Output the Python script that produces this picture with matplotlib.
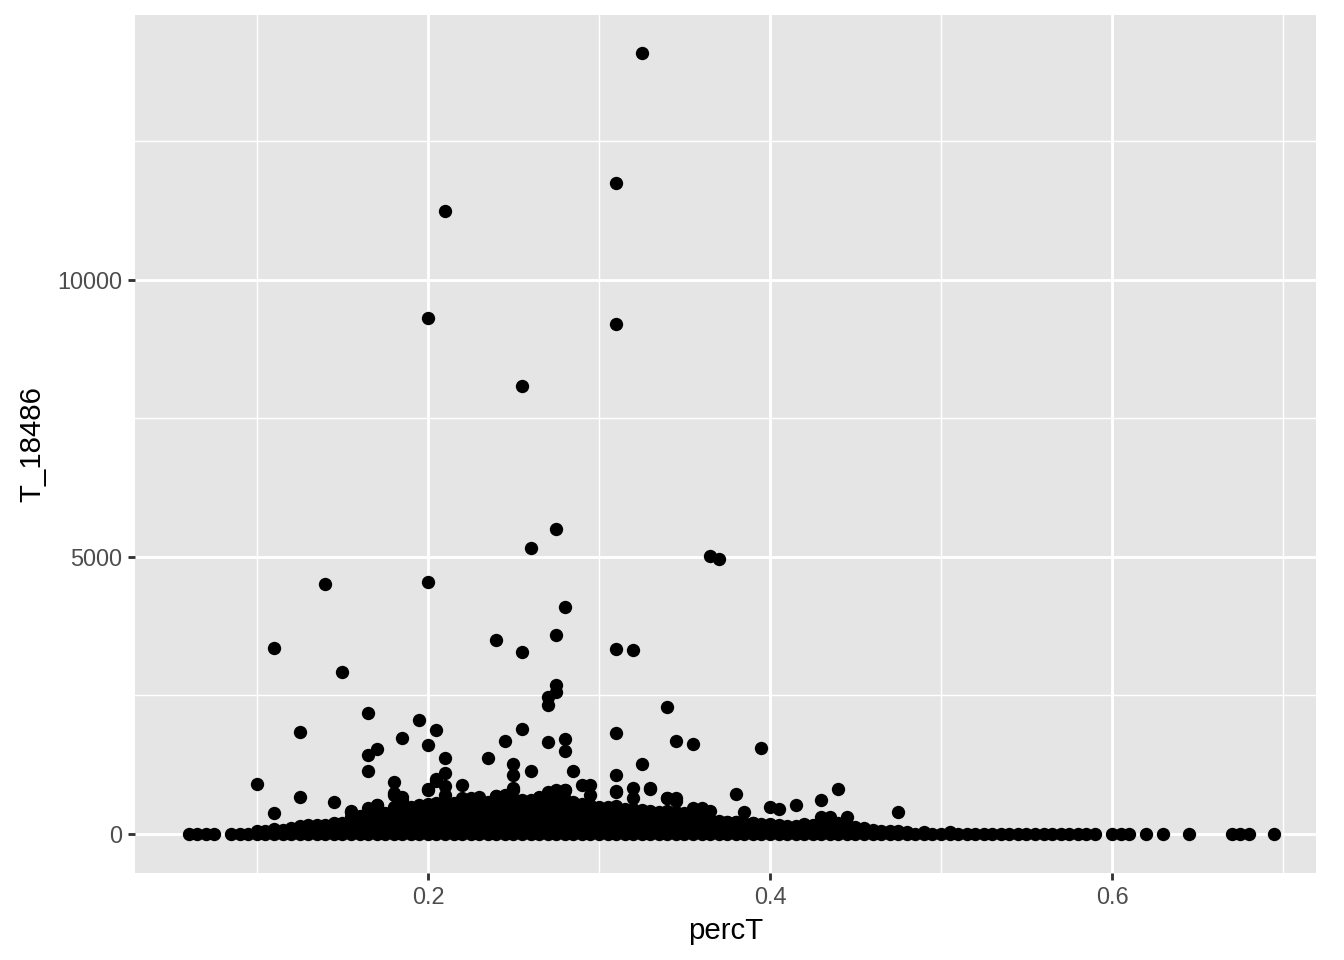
import numpy as np
import matplotlib
matplotlib.use("Agg")
import matplotlib.pyplot as plt
from matplotlib.ticker import MultipleLocator

plt.rcParams['font.family'] = ['Liberation Sans', 'DejaVu Sans']

# isolated high points (percT, T_18486)
outlier_x = [0.325, 0.310, 0.210, 0.200, 0.310, 0.255, 0.275, 0.260, 0.365, 0.370,
             0.140, 0.200, 0.280, 0.275, 0.240, 0.110, 0.310, 0.320, 0.255, 0.150,
             0.275, 0.275, 0.270, 0.270, 0.340, 0.165, 0.195, 0.205, 0.255, 0.125,
             0.310, 0.185, 0.280, 0.245, 0.345, 0.270, 0.355, 0.200, 0.170, 0.395,
             0.280, 0.165, 0.210, 0.235, 0.250, 0.325, 0.260, 0.165, 0.285, 0.310,
             0.210, 0.250, 0.180, 0.100, 0.295, 0.220, 0.330, 0.440, 0.380, 0.125,
             0.430, 0.145, 0.110, 0.475, 0.385, 0.400, 0.405, 0.415, 0.205, 0.200,
             0.210, 0.225, 0.230, 0.240, 0.250, 0.180, 0.185, 0.195, 0.155, 0.165,
             0.170, 0.265, 0.275, 0.280, 0.290, 0.295, 0.310, 0.320, 0.330, 0.340,
             0.345, 0.355, 0.360, 0.375, 0.380, 0.390, 0.420, 0.430, 0.435, 0.445]
outlier_y = [14100, 11750, 11250, 9310, 9200, 8090, 5500, 5160, 5020, 4960,
             4510, 4550, 4100, 3590, 3500, 3360, 3340, 3320, 3290, 2920,
             2690, 2570, 2470, 2330, 2290, 2190, 2060, 1880, 1890, 1840,
             1830, 1730, 1720, 1680, 1680, 1660, 1630, 1610, 1540, 1550,
             1500, 1430, 1370, 1370, 1260, 1270, 1140, 1140, 1140, 1070,
             1100, 1060, 940, 900, 880, 880, 810, 810, 720, 670,
             610, 580, 380, 400, 400, 490, 450, 520, 990, 810,
             870, 650, 670, 680, 830, 740, 670, 500, 410, 470,
             520, 670, 790, 790, 880, 700, 780, 830, 830, 650,
             650, 470, 470, 220, 220, 200, 180, 250, 310, 310]

# small bumps just above the dense band
bump_x = [0.155, 0.170, 0.180, 0.185, 0.200, 0.205, 0.210, 0.220, 0.240, 0.245,
          0.250, 0.270, 0.275, 0.280, 0.310, 0.320, 0.340, 0.345, 0.365, 0.430]
bump_y = [400, 520, 700, 620, 800, 950, 700, 650, 680, 700,
          800, 750, 780, 800, 750, 650, 650, 600, 420, 300]

# dense band of low values
band_x = [0.100, 0.105, 0.110, 0.115, 0.120,
          0.125, 0.125, 0.130, 0.130, 0.135, 0.135, 0.140, 0.140,
          0.145, 0.145, 0.150, 0.150,
          0.155, 0.155, 0.155, 0.160, 0.160, 0.160, 0.165, 0.165, 0.165,
          0.170, 0.170, 0.170, 0.175, 0.175, 0.175,
          0.180, 0.180, 0.180, 0.180, 0.185, 0.185, 0.185, 0.185,
          0.190, 0.190, 0.190, 0.190, 0.195, 0.195, 0.195, 0.195,
          0.200, 0.200, 0.200, 0.200, 0.205, 0.205, 0.205, 0.205,
          0.210, 0.210, 0.210, 0.210, 0.215, 0.215, 0.215, 0.215,
          0.220, 0.220, 0.220, 0.220, 0.225, 0.225, 0.225, 0.225,
          0.230, 0.230, 0.230, 0.230, 0.235, 0.235, 0.235, 0.235,
          0.240, 0.240, 0.240, 0.240, 0.240, 0.245, 0.245, 0.245, 0.245, 0.245,
          0.250, 0.250, 0.250, 0.250, 0.250, 0.255, 0.255, 0.255, 0.255, 0.255,
          0.260, 0.260, 0.260, 0.260, 0.260, 0.265, 0.265, 0.265, 0.265, 0.265,
          0.270, 0.270, 0.270, 0.270, 0.270, 0.275, 0.275, 0.275, 0.275, 0.275,
          0.280, 0.280, 0.280, 0.280, 0.280,
          0.285, 0.285, 0.285, 0.285, 0.290, 0.290, 0.290, 0.290,
          0.295, 0.295, 0.295, 0.295, 0.300, 0.300, 0.300, 0.300,
          0.305, 0.305, 0.305, 0.305, 0.310, 0.310, 0.310, 0.310,
          0.315, 0.315, 0.315, 0.315, 0.320, 0.320, 0.320, 0.320,
          0.325, 0.325, 0.325, 0.325,
          0.330, 0.330, 0.330, 0.335, 0.335, 0.335, 0.340, 0.340, 0.340,
          0.345, 0.345, 0.345, 0.350, 0.350, 0.350, 0.355, 0.355, 0.355,
          0.360, 0.360, 0.360,
          0.365, 0.365, 0.370, 0.370, 0.375, 0.375, 0.380, 0.380,
          0.385, 0.385, 0.390, 0.390, 0.395, 0.395, 0.400, 0.400,
          0.405, 0.405, 0.410, 0.410, 0.415, 0.415, 0.420, 0.420,
          0.425, 0.425, 0.430, 0.430, 0.435, 0.435, 0.440, 0.440,
          0.445, 0.445,
          0.450, 0.455, 0.460, 0.465, 0.470, 0.475, 0.480, 0.490, 0.505]
band_y = [60, 60, 90, 80, 100,
          70, 140, 80, 160, 80, 160, 90, 170,
          100, 200, 100, 200,
          100, 200, 300, 110, 220, 320, 110, 220, 330,
          120, 240, 360, 130, 260, 380,
          120, 240, 360, 480, 120, 250, 380, 500,
          120, 240, 360, 480, 130, 260, 390, 520,
          130, 270, 400, 540, 140, 280, 420, 560,
          140, 280, 420, 560, 140, 280, 420, 560,
          140, 280, 420, 560, 140, 290, 440, 580,
          140, 290, 440, 580, 140, 290, 440, 580,
          120, 240, 360, 480, 600, 120, 250, 370, 500, 620,
          130, 260, 390, 510, 640, 120, 250, 370, 500, 620,
          120, 250, 370, 500, 620, 130, 260, 390, 510, 640,
          130, 260, 390, 520, 650, 130, 260, 400, 530, 660,
          130, 260, 390, 510, 640,
          140, 290, 440, 580, 140, 270, 400, 540,
          130, 260, 390, 520, 120, 240, 360, 480,
          120, 240, 360, 480, 120, 250, 380, 500,
          120, 230, 350, 460, 120, 230, 350, 460,
          110, 220, 330, 440,
          140, 280, 420, 130, 270, 400, 140, 280, 420,
          130, 270, 400, 130, 250, 380, 110, 230, 340,
          110, 220, 320,
          130, 260, 120, 240, 110, 220, 110, 220,
          100, 200, 100, 200, 90, 180, 90, 180,
          80, 160, 80, 150, 80, 150, 70, 140,
          80, 160, 100, 200, 110, 220, 100, 200,
          80, 160,
          120, 100, 80, 60, 60, 60, 40, 30, 40]

# points lying on zero
zero_x = [0.060, 0.065, 0.070, 0.075, 0.085, 0.090, 0.095, 0.100, 0.105, 0.110,
          0.115, 0.120, 0.125, 0.130, 0.135, 0.140, 0.145, 0.150, 0.155, 0.160,
          0.165, 0.170, 0.175, 0.180, 0.185, 0.190, 0.195, 0.200, 0.205, 0.210,
          0.215, 0.220, 0.225, 0.230, 0.235, 0.240, 0.245, 0.250, 0.255, 0.260,
          0.265, 0.270, 0.275, 0.280, 0.285, 0.290, 0.295, 0.300, 0.305, 0.310,
          0.315, 0.320, 0.325, 0.330, 0.335, 0.340, 0.345, 0.350, 0.355, 0.360,
          0.365, 0.370, 0.375, 0.380, 0.385, 0.390, 0.395, 0.400, 0.405, 0.410,
          0.415, 0.420, 0.425, 0.430, 0.435, 0.440, 0.445, 0.450, 0.455, 0.460,
          0.465, 0.470, 0.475, 0.480, 0.485, 0.490, 0.495, 0.500, 0.505, 0.510,
          0.515, 0.520, 0.525, 0.530, 0.535, 0.540, 0.545, 0.550, 0.555, 0.560,
          0.565, 0.570, 0.575, 0.580, 0.585, 0.590, 0.600, 0.605, 0.610, 0.620,
          0.630, 0.645, 0.670, 0.675, 0.680, 0.695]
zero_y = [0] * len(zero_x)

x = np.array(outlier_x + bump_x + band_x + zero_x)
y = np.array(outlier_y + bump_y + band_y + zero_y)

fig = plt.figure(figsize=(7, 5), dpi=192)
ax = fig.add_axes([135 / 1344, 1 - 873 / 960, (1316 - 135) / 1344, (873 - 15) / 960])
ax.set_facecolor('#E5E5E5')
for s in ax.spines.values():
    s.set_visible(False)

ax.scatter(x, y, s=25, color='black', linewidths=0, zorder=3)

ax.set_xlim(0.0287, 0.7193)
ax.set_ylim(-704, 14783)
ax.xaxis.set_major_locator(MultipleLocator(0.2))
ax.xaxis.set_minor_locator(MultipleLocator(0.1))
ax.yaxis.set_major_locator(MultipleLocator(5000))
ax.yaxis.set_minor_locator(MultipleLocator(2500))
ax.xaxis.set_major_formatter(plt.FuncFormatter(lambda v, p: f'{v:g}'))
ax.yaxis.set_major_formatter(plt.FuncFormatter(lambda v, p: f'{v:.0f}'))

ax.grid(which='major', color='white', linewidth=1.07)
ax.grid(which='minor', color='white', linewidth=0.53)
ax.set_axisbelow(True)
ax.tick_params(which='major', length=2.75, width=1.07, color='#333333',
               labelsize=8.8, labelcolor='#4D4D4D', pad=2.2)
ax.tick_params(which='minor', length=0)

ax.set_xlabel('percT', fontsize=11, color='black', labelpad=3)
ax.set_ylabel('T_18486', fontsize=11, color='black', labelpad=4)

fig.savefig('out.png', dpi=192)
